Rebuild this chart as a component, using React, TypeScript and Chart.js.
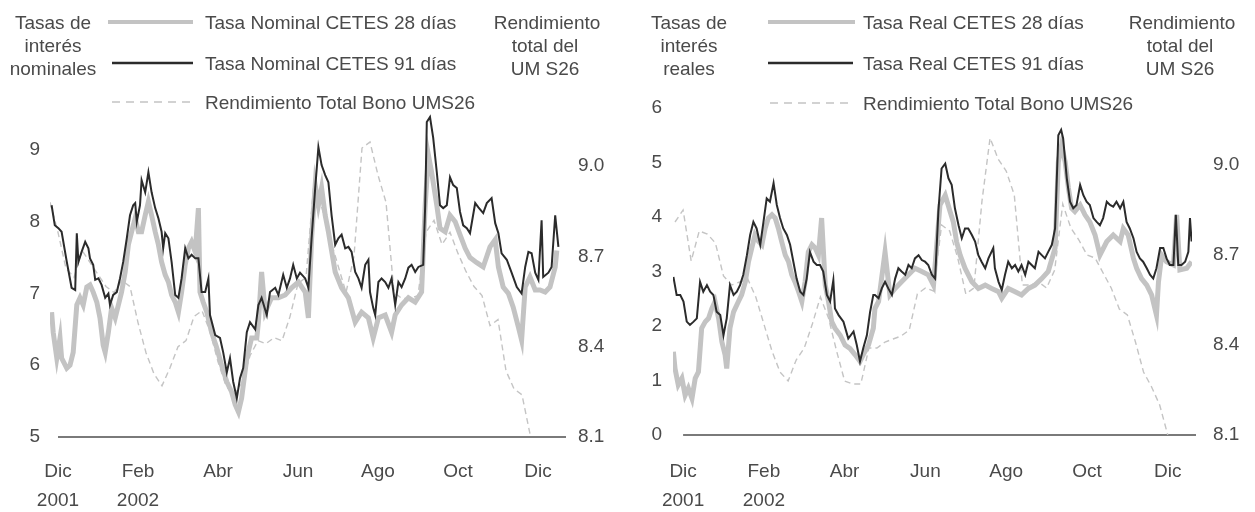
import React, { useEffect, useRef } from "react";
import { Chart, registerables } from "chart.js";

Chart.register(...registerables);

const FONT = "'Liberation Sans', Arial, Helvetica, sans-serif";

// Dates are expressed in months counted from early Dec 2001 (0 = Dic 2001)
const monthTicks = [0, 2, 4, 6, 8, 10, 12];
const monthLabels = ["Dic", "Feb", "Abr", "Jun", "Ago", "Oct", "Dic"];
const yearLabels = ["2001", "2002", "", "", "", "", ""];
const nominalTicks = [5, 6, 7, 8, 9];
const realTicks = [0, 1, 2, 3, 4, 5, 6];
const umsTicks = [8.1, 8.4, 8.7, 9.0];

// ---------- Left panel: nominal rates ----------
const nominal91Months = [
  -0.16, -0.08, 0.01, 0.09, 0.22, 0.34, 0.43, 0.47, 0.51, 0.59,
  0.68, 0.76, 0.8, 0.88, 0.93, 1.01, 1.09, 1.18, 1.26, 1.3,
  1.38, 1.47, 1.55, 1.63, 1.72, 1.8, 1.88, 1.93, 1.97, 2.05,
  2.09, 2.18, 2.26, 2.34, 2.43, 2.51, 2.59, 2.63, 2.68, 2.76,
  2.84, 2.93, 3.01, 3.09, 3.18, 3.26, 3.34, 3.43, 3.51, 3.59,
  3.68, 3.76, 3.8, 3.93, 4.05, 4.13, 4.22, 4.3, 4.38, 4.47,
  4.55, 4.63, 4.72, 4.8, 4.93, 5.01, 5.09, 5.22, 5.3, 5.43,
  5.51, 5.63, 5.72, 5.8, 5.88, 5.97, 6.05, 6.18, 6.26, 6.34,
  6.43, 6.51, 6.59, 6.68, 6.76, 6.84, 6.93, 7.01, 7.09, 7.18,
  7.26, 7.34, 7.43, 7.51, 7.59, 7.68, 7.76, 7.8, 7.88, 7.93,
  8.01, 8.09, 8.18, 8.26, 8.34, 8.43, 8.51, 8.59, 8.68, 8.76,
  8.84, 8.93, 9.01, 9.13, 9.18, 9.22, 9.3, 9.38, 9.47, 9.55,
  9.63, 9.72, 9.8, 9.88, 9.97, 10.05, 10.13, 10.22, 10.3, 10.43,
  10.51, 10.63, 10.72, 10.84, 10.93, 11.01, 11.09, 11.22, 11.34, 11.47,
  11.59, 11.68, 11.76, 11.84, 11.93, 12.01, 12.09, 12.13, 12.26, 12.34,
  12.43, 12.51,
];
const nominal91Values = [
  8.23, 7.95, 7.91, 7.86, 7.44, 7.08, 7.05, 7.84, 7.44, 7.58,
  7.72, 7.63, 7.49, 7.4, 7.19, 7.21, 7.12, 6.94, 7.0, 6.84,
  6.98, 7.02, 7.21, 7.44, 7.77, 8.09, 8.23, 8.26, 8.0, 8.23,
  8.58, 8.41, 8.69, 8.41, 8.19, 8.05, 7.86, 7.63, 7.84, 7.77,
  7.44, 6.98, 6.94, 7.21, 7.63, 7.49, 7.54, 7.49, 7.49, 7.02,
  7.02, 7.21, 6.7, 6.42, 6.38, 6.18, 5.9, 6.1, 5.77, 5.54,
  5.82, 5.96, 6.46, 6.6, 6.5, 6.84, 6.94, 6.7, 7.02, 7.08,
  6.98, 7.26, 7.08, 7.21, 7.4, 7.21, 7.29, 7.21, 7.08, 7.77,
  8.47, 9.04, 8.79, 8.65, 8.55, 8.09, 7.68, 7.77, 7.82, 7.63,
  7.65, 7.58, 7.3, 7.21, 7.08, 7.4, 7.47, 7.02, 6.8, 6.7,
  7.16, 7.21, 7.16, 7.08, 7.21, 6.84, 7.16, 7.09, 7.21, 7.36,
  7.4, 7.3, 7.37, 7.4, 8.23, 9.39, 9.46, 9.17, 8.69, 8.23,
  8.19, 8.23, 8.62, 8.51, 8.47, 8.14, 7.95, 7.91, 7.84, 8.26,
  8.2, 8.12, 8.26, 8.33, 7.98, 7.84, 7.56, 7.47, 7.29, 7.09,
  7.0, 7.37, 7.58, 7.56, 7.29, 7.19, 8.02, 7.23, 7.29, 7.37,
  8.09, 7.65,
];
const nominal28Months = [
  -0.16, -0.12, -0.03, 0.05, 0.09, 0.22, 0.3, 0.38, 0.47, 0.55,
  0.63, 0.72, 0.8, 0.88, 0.97, 1.05, 1.13, 1.18, 1.26, 1.34,
  1.43, 1.51, 1.59, 1.68, 1.76, 1.84, 1.93, 2.01, 2.09, 2.18,
  2.26, 2.34, 2.43, 2.51, 2.59, 2.68, 2.76, 2.84, 2.93, 3.01,
  3.09, 3.18, 3.26, 3.34, 3.43, 3.51, 3.55, 3.63, 3.72, 3.84,
  3.97, 4.09, 4.22, 4.34, 4.43, 4.51, 4.59, 4.72, 4.84, 4.97,
  5.01, 5.09, 5.18, 5.34, 5.51, 5.68, 5.84, 6.01, 6.18, 6.26,
  6.34, 6.43, 6.51, 6.59, 6.68, 6.76, 6.93, 7.09, 7.26, 7.43,
  7.59, 7.76, 7.88, 8.01, 8.18, 8.34, 8.43, 8.59, 8.76, 8.93,
  9.09, 9.18, 9.26, 9.34, 9.47, 9.55, 9.68, 9.8, 9.93, 10.05,
  10.18, 10.3, 10.47, 10.63, 10.8, 10.93, 11.01, 11.13, 11.26, 11.38,
  11.51, 11.59, 11.68, 11.8, 11.93, 12.05, 12.18, 12.3, 12.43, 12.47,
];
const nominal28Values = [
  6.74, 6.46, 6.1, 6.38, 6.1, 5.96, 6.0, 6.18, 6.84, 6.94,
  6.84, 7.09, 7.12, 7.02, 6.88, 6.66, 6.28, 6.18, 6.46, 6.8,
  6.66, 6.84, 7.02, 7.3, 7.68, 7.86, 8.05, 7.86, 7.86, 8.09,
  8.28, 8.09, 7.86, 7.68, 7.44, 7.26, 7.16, 6.98, 6.88, 6.74,
  7.02, 7.4, 7.63, 7.72, 7.58, 8.19, 7.02, 6.88, 6.74, 6.46,
  6.24, 6.0, 5.77, 5.63, 5.45, 5.35, 5.54, 6.1, 6.38, 6.38,
  6.6, 7.3, 6.74, 6.94, 6.94, 6.98, 7.08, 7.16, 7.02, 6.66,
  7.77, 8.51, 8.23, 8.47, 8.09, 7.86, 7.3, 7.08, 6.94, 6.6,
  6.74, 6.66, 6.38, 6.66, 6.7, 6.46, 6.7, 6.84, 6.94, 6.88,
  7.02, 8.23, 8.93, 8.69, 8.23, 7.91, 7.86, 8.09, 8.0, 7.82,
  7.63, 7.5, 7.43, 7.37, 7.65, 7.75, 7.37, 7.09, 7.0, 6.81,
  6.53, 6.35, 7.09, 7.23, 7.05, 7.05, 7.02, 7.09, 7.37, 7.6,
];

// UMS26 total return (right axis), sampled about every 6 days from -0.2 months
const umsMonths = [
  -0.2, 0, 0.2, 0.4, 0.6, 0.8, 1, 1.2, 1.4, 1.6,
  1.8, 2, 2.2, 2.4, 2.6, 2.8, 3, 3.2, 3.4, 3.6,
  3.8, 4, 4.2, 4.4, 4.6, 4.8, 5, 5.2, 5.4, 5.6,
  5.8, 6, 6.2, 6.4, 6.6, 6.8, 7, 7.2, 7.4, 7.6,
  7.8, 8, 8.2, 8.4, 8.6, 8.8, 9, 9.2, 9.4, 9.6,
  9.8, 10, 10.2, 10.4, 10.6, 10.8, 11, 11.2, 11.4, 11.6,
  11.8, 12, 12.2, 12.4, 12.6,
];
const umsNominalPanel = [
  8.88, 8.78, 8.66, 8.63, 8.72, 8.68, 8.64, 8.6, 8.58, 8.62,
  8.6, 8.48, 8.38, 8.31, 8.27, 8.33, 8.4, 8.42, 8.5, 8.52,
  8.45, 8.35, 8.27, 8.24, 8.28, 8.37, 8.42, 8.41, 8.43, 8.42,
  8.5, 8.61, 8.63, 8.95, 8.86, 8.76, 8.67, 8.58, 8.7, 9.06,
  9.08, 8.97, 8.88, 8.58, 8.56, 8.56, 8.57, 8.78, 8.82, 8.74,
  8.78, 8.71, 8.65, 8.6, 8.57, 8.47, 8.49, 8.32, 8.26, 8.24,
  8.11, null, null, null, null,
];

// ---------- Right panel: real rates ----------
const real91Months = [
  -0.24, -0.16, -0.07, 0.01, 0.09, 0.17, 0.26, 0.34, 0.42, 0.5,
  0.59, 0.67, 0.75, 0.83, 0.92, 1.0, 1.08, 1.16, 1.25, 1.33,
  1.41, 1.49, 1.58, 1.66, 1.74, 1.82, 1.91, 1.99, 2.07, 2.15,
  2.24, 2.32, 2.4, 2.48, 2.57, 2.65, 2.73, 2.81, 2.9, 2.98,
  3.06, 3.14, 3.23, 3.31, 3.39, 3.47, 3.56, 3.64, 3.72, 3.76,
  3.85, 3.97, 4.09, 4.22, 4.3, 4.38, 4.46, 4.55, 4.63, 4.71,
  4.75, 4.84, 4.92, 5.0, 5.08, 5.17, 5.25, 5.33, 5.41, 5.5,
  5.58, 5.66, 5.74, 5.83, 5.91, 5.99, 6.07, 6.16, 6.24, 6.32,
  6.4, 6.49, 6.57, 6.65, 6.73, 6.82, 6.9, 6.98, 7.06, 7.15,
  7.23, 7.31, 7.39, 7.48, 7.56, 7.68, 7.72, 7.81, 7.89, 7.97,
  8.05, 8.14, 8.22, 8.3, 8.38, 8.47, 8.55, 8.63, 8.71, 8.8,
  8.88, 8.96, 9.04, 9.13, 9.21, 9.29, 9.36, 9.41, 9.5, 9.58,
  9.66, 9.74, 9.83, 9.91, 9.99, 10.07, 10.16, 10.24,
  10.32, 10.4, 10.49, 10.57, 10.65, 10.73, 10.82, 10.9, 10.98, 11.06,
  11.15, 11.23, 11.31, 11.39, 11.48, 11.56, 11.64, 11.72, 11.81, 11.89,
  11.97, 12.05, 12.14, 12.2, 12.26, 12.34, 12.43, 12.51, 12.55, 12.59,
];
const real91Values = [
  2.9, 2.57, 2.57, 2.45, 2.08, 2.02, 2.08, 2.14, 2.81, 2.63,
  2.75, 2.63, 2.57, 2.26, 2.2, 1.83, 2.14, 2.75, 2.57, 2.63,
  2.75, 2.94, 3.3, 3.67, 3.91, 3.79, 3.49, 3.91, 4.34, 4.28,
  4.62, 4.22, 3.98, 3.79, 3.67, 3.49, 3.18, 2.87, 2.63, 2.57,
  2.87, 3.36, 3.18, 3.12, 3.12, 3.0, 2.57, 2.45, 2.84, 2.32,
  2.2, 2.08, 1.77, 1.9, 1.65, 1.35, 1.59, 1.83, 2.26, 2.57,
  2.57, 2.51, 2.69, 2.81, 2.69, 2.57, 2.87, 3.06, 3.0, 2.94,
  3.12, 3.06, 3.24, 3.3, 3.21, 3.18, 3.12, 2.94, 2.87, 4.1,
  4.89, 4.98, 4.71, 4.59, 4.16, 3.85, 3.61, 3.79, 3.79, 3.67,
  3.55, 3.3, 3.18, 3.06, 3.24, 3.43, 3.06, 2.81, 2.66, 2.94,
  3.18, 3.06, 3.12, 3.0, 3.12, 2.94, 3.18, 3.12, 3.06, 3.36,
  3.3, 3.24, 3.36, 3.49, 3.79, 5.5, 5.6, 5.44, 4.71, 4.28,
  4.16, 4.22, 4.59, 4.4, 4.28, 4.22, 3.98, 3.91,
  3.85, 3.98, 4.28, 4.22, 4.19, 4.28, 4.16, 4.28, 3.91, 3.79,
  3.61, 3.36, 3.24, 3.18, 3.06, 2.94, 2.87, 3.06, 3.43, 3.43,
  3.24, 3.12, 3.12, 4.04, 3.12, 3.12, 3.18, 3.36, 3.98, 3.55,
];
const real28Months = [
  -0.24, -0.2, -0.12, -0.03, 0.05, 0.13, 0.22, 0.3, 0.38, 0.46,
  0.55, 0.63, 0.71, 0.79, 0.88, 0.96, 1.04, 1.08, 1.16, 1.25,
  1.37, 1.45, 1.54, 1.62, 1.7, 1.78, 1.87, 1.95, 2.03, 2.11,
  2.2, 2.28, 2.36, 2.44, 2.53, 2.61, 2.69, 2.77, 2.86, 2.94,
  3.02, 3.1, 3.19, 3.27, 3.35, 3.43, 3.52, 3.6, 3.68, 3.76,
  3.89, 4.01, 4.13, 4.26, 4.38, 4.46, 4.59, 4.71,
  4.75, 4.84, 5.0, 5.12, 5.25, 5.41, 5.58, 5.74, 5.91, 6.07,
  6.2, 6.28, 6.36, 6.49, 6.61, 6.69, 6.77, 6.86, 6.98, 7.15,
  7.31, 7.48, 7.64, 7.81, 7.89, 8.05, 8.22, 8.38, 8.55, 8.71,
  8.88, 9.04, 9.21, 9.29, 9.37, 9.46, 9.54, 9.62, 9.7, 9.83,
  9.95, 10.07, 10.2,
  10.32, 10.49, 10.65, 10.82, 10.9, 11.02, 11.15, 11.23, 11.35, 11.48,
  11.6, 11.72, 11.77, 11.85, 11.97, 12.14, 12.22, 12.3, 12.47, 12.59,
];
const real28Values = [
  1.53, 1.22, 0.92, 1.04, 0.73, 0.86, 0.67, 1.04, 1.16, 1.96,
  2.08, 2.14, 2.32, 2.45, 2.14, 1.71, 1.47, 1.22, 1.96, 2.26,
  2.45, 2.57, 2.81, 3.18, 3.43, 3.67, 3.55, 3.49, 3.79, 3.98,
  4.04, 3.98, 3.79, 3.55, 3.3, 3.18, 2.94, 2.81, 2.63, 2.45,
  2.81, 3.36, 3.49, 3.43, 3.3, 3.98, 2.75, 2.45, 2.08, 1.96,
  1.83, 1.65, 1.59, 1.47, 1.35, 1.47, 1.65, 1.96,
  2.32, 2.45, 3.36, 2.57, 2.69, 2.81, 2.94, 3.06, 3.0, 2.94,
  2.75, 3.49, 4.22, 4.4, 4.1, 3.91, 3.55, 3.3, 3.06, 2.81,
  2.69, 2.75, 2.69, 2.63, 2.51, 2.69, 2.63, 2.57, 2.69, 2.75,
  2.87, 3.0, 3.43, 5.01, 5.32, 5.01, 4.53, 4.16, 4.1, 4.22,
  4.04, 3.91, 3.67,
  3.3, 3.55, 3.67, 3.55, 3.79, 3.67, 3.24, 3.06, 2.87, 2.75,
  2.57, 2.2, 2.81, 3.3, 3.18, 3.12, 4.04, 3.03, 3.06, 3.18,
];
const umsRealPanel = [
  8.81, 8.85, 8.68, 8.78, 8.77, 8.74, 8.63, 8.6, 8.61, 8.62,
  8.56, 8.47, 8.38, 8.31, 8.28, 8.35, 8.39, 8.47, 8.56, 8.49,
  8.38, 8.28, 8.27, 8.27, 8.39, 8.39, 8.41, 8.42, 8.43, 8.45,
  8.57, 8.59, 8.58, 8.8, 8.78, 8.69, 8.57, 8.59, 8.88, 9.09,
  9.02, 8.98, 8.9, 8.6, 8.6, 8.61, 8.59, 8.65, 8.87, 8.79,
  8.75, 8.7, 8.69, 8.64, 8.59, 8.52, 8.5, 8.41, 8.31, 8.26,
  8.2, 8.1, null, null, null,
];

const DARK = "#2b2b2b";
const LIGHT = "#c3c3c3";
const DASH = "#c4c4c4";
const TEXT = "#4a4a4a";

const baselinePlugin = {
  id: "baseline",
  beforeDatasetsDraw(chart: any) {
    const { ctx, chartArea, scales } = chart;
    const y = scales.y.getPixelForValue(scales.y.min);
    const x0 = scales.x.getPixelForValue(0);
    ctx.save();
    ctx.strokeStyle = "#7a7a7a";
    ctx.lineWidth = 2;
    ctx.beginPath();
    ctx.moveTo(x0, y);
    ctx.lineTo(chartArea.right + 4, y);
    ctx.stroke();
    ctx.restore();
  },
};

function pairs(months: number[], vals: (number | null)[]) {
  return months.map((m, i) => ({ x: m, y: vals[i] }));
}

type PanelCfg = {
  d28: any[];
  d91: any[];
  dUms: any[];
  l28: string;
  l91: string;
  xMin: number;
  yMin: number;
  yMax: number;
  yTicks: number[];
  y2Max: number;
  top: number;
  xHeight: number;
  xPad: number;
  yWidth: number;
  yPad: number;
  y2Pad: number;
  y2Width: number;
};

function makeChart(canvas: HTMLCanvasElement, c: PanelCfg) {
  const tickFont = { family: FONT, size: 19, lineHeight: 1.55 };
  return new Chart(canvas, {
    type: "line",
    data: {
      datasets: [
        {
          label: c.l91,
          data: c.d91,
          borderColor: DARK,
          borderWidth: 2,
          pointRadius: 0,
          tension: 0,
          yAxisID: "y",
          order: 0,
        },
        {
          label: c.l28,
          data: c.d28,
          borderColor: LIGHT,
          borderWidth: 5,
          pointRadius: 0,
          tension: 0,
          yAxisID: "y",
          order: 1,
        },
        {
          label: "Rendimiento Total Bono UMS26",
          data: c.dUms,
          borderColor: DASH,
          borderWidth: 1.4,
          borderDash: [6, 4],
          pointRadius: 0,
          tension: 0,
          spanGaps: false,
          yAxisID: "y2",
          order: 2,
        },
      ],
    },
    options: {
      responsive: false,
      animation: false,
      parsing: false,
      layout: { padding: { top: c.top, left: 0, right: 0, bottom: 0 } },
      plugins: { legend: { display: false }, tooltip: { enabled: false } },
      scales: {
        x: {
          type: "linear",
          min: c.xMin,
          max: 12.6,
          grid: { display: false, drawTicks: false },
          border: { display: false },
          afterBuildTicks: (s: any) => {
            s.ticks = monthTicks.map((v) => ({ value: v }));
          },
          afterFit: (s: any) => {
            s.height = c.xHeight;
          },
          ticks: {
            autoSkip: false,
            maxRotation: 0,
            minRotation: 0,
            padding: c.xPad,
            font: tickFont,
            color: TEXT,
            callback: (v: any) => {
              const k = monthTicks.indexOf(Number(v));
              if (k < 0) return "";
              return yearLabels[k] ? [monthLabels[k], yearLabels[k]] : monthLabels[k];
            },
          },
        },
        y: {
          position: "left",
          min: c.yMin,
          max: c.yMax,
          grid: { display: false, drawTicks: false },
          border: { display: false },
          afterBuildTicks: (s: any) => {
            s.ticks = c.yTicks.map((v) => ({ value: v }));
          },
          afterFit: (s: any) => {
            s.width = c.yWidth;
          },
          ticks: { padding: c.yPad, font: tickFont, color: TEXT, callback: (v: any) => String(v) },
        },
        y2: {
          position: "right",
          min: 8.1,
          max: c.y2Max,
          grid: { display: false, drawTicks: false },
          border: { display: false },
          afterBuildTicks: (s: any) => {
            s.ticks = umsTicks.map((v) => ({ value: v }));
          },
          afterFit: (s: any) => {
            s.width = c.y2Width;
          },
          ticks: {
            padding: c.y2Pad,
            font: tickFont,
            color: TEXT,
            callback: (v: any) => Number(v).toFixed(1),
          },
        },
      },
    } as any,
    plugins: [baselinePlugin],
  });
}

const textBase: React.CSSProperties = {
  position: "absolute",
  whiteSpace: "nowrap",
  fontFamily: FONT,
  fontSize: 19,
  lineHeight: "19px",
  color: TEXT,
};

function CText({ x, y, t }: { x: number; y: number; t: string }) {
  return <div style={{ ...textBase, left: x, top: y, transform: "translate(-50%, -50%)" }}>{t}</div>;
}
function LText({ x, y, t }: { x: number; y: number; t: string }) {
  return <div style={{ ...textBase, left: x, top: y, transform: "translateY(-50%)" }}>{t}</div>;
}
function Sample({ x0, x1, y, kind }: { x0: number; x1: number; y: number; kind: string }) {
  const w = x1 - x0;
  const stroke = kind === "dark" ? DARK : kind === "light" ? LIGHT : DASH;
  const sw = kind === "dark" ? 2.5 : kind === "light" ? 4 : 1.5;
  return (
    <svg style={{ position: "absolute", left: x0, top: y - 4 }} width={w} height={8}>
      <line x1={0} y1={4} x2={w} y2={4} stroke={stroke} strokeWidth={sw} strokeDasharray={kind === "dash" ? "8 6" : undefined} />
    </svg>
  );
}

export default function App() {
  const leftRef = useRef<HTMLCanvasElement | null>(null);
  const rightRef = useRef<HTMLCanvasElement | null>(null);

  useEffect(() => {
    const a = makeChart(leftRef.current!, {
      d28: pairs(nominal28Months, nominal28Values),
      d91: pairs(nominal91Months, nominal91Values),
      dUms: pairs(umsMonths, umsNominalPanel),
      l28: "Tasa Nominal CETES 28 días",
      l91: "Tasa Nominal CETES 91 días",
      xMin: -0.2,
      yMin: 5,
      yMax: 9.627,
      yTicks: nominalTicks,
      y2Max: 9.203,
      top: 105,
      xHeight: 75,
      xPad: 20,
      yWidth: 50,
      yPad: 10,
      y2Pad: 16,
      y2Width: 63,
    });
    const b = makeChart(rightRef.current!, {
      d28: pairs(real28Months, real28Values),
      d91: pairs(real91Months, real91Values),
      dUms: pairs(umsMonths, umsRealPanel),
      l28: "Tasa Real CETES 28 días",
      l91: "Tasa Real CETES 91 días",
      xMin: -0.25,
      yMin: 0,
      yMax: 6,
      yTicks: realTicks,
      y2Max: 9.19,
      top: 108,
      xHeight: 77,
      xPad: 22,
      yWidth: 48,
      yPad: 11,
      y2Pad: 21,
      y2Width: 63,
    });
    return () => {
      a.destroy();
      b.destroy();
    };
  }, []);

  return (
    <div style={{ position: "absolute", left: 0, top: 0, width: 1255, height: 512, background: "#fff", overflow: "hidden" }}>
      <canvas ref={leftRef} width={625} height={512} style={{ position: "absolute", left: 0, top: 0, width: 625, height: 512 }} />
      <canvas ref={rightRef} width={630} height={512} style={{ position: "absolute", left: 625, top: 0, width: 630, height: 512 }} />

      {/* Left panel headings */}
      <CText x={53} y={22} t="Tasas de" />
      <CText x={53} y={45} t="interés" />
      <CText x={53} y={68} t="nominales" />
      <Sample x0={108} x1={193} y={22} kind="light" />
      <LText x={205} y={22} t="Tasa Nominal CETES 28 días" />
      <Sample x0={112} x1={193} y={63} kind="dark" />
      <LText x={205} y={63} t="Tasa Nominal CETES 91 días" />
      <Sample x0={112} x1={193} y={102} kind="dash" />
      <LText x={205} y={102} t="Rendimiento Total Bono UMS26" />
      <CText x={547} y={22} t="Rendimiento" />
      <CText x={545} y={45} t="total del" />
      <CText x={545} y={68} t="UM S26" />

      {/* Right panel headings */}
      <CText x={689} y={22} t="Tasas de" />
      <CText x={689} y={45} t="interés" />
      <CText x={689} y={68} t="reales" />
      <Sample x0={768} x1={855} y={22} kind="light" />
      <LText x={863} y={22} t="Tasa Real CETES 28 días" />
      <Sample x0={768} x1={853} y={63} kind="dark" />
      <LText x={863} y={63} t="Tasa Real CETES 91 días" />
      <Sample x0={770} x1={853} y={103} kind="dash" />
      <LText x={863} y={103} t="Rendimiento Total Bono UMS26" />
      <CText x={1182} y={22} t="Rendimiento" />
      <CText x={1180} y={45} t="total del" />
      <CText x={1180} y={68} t="UM S26" />
    </div>
  );
}
